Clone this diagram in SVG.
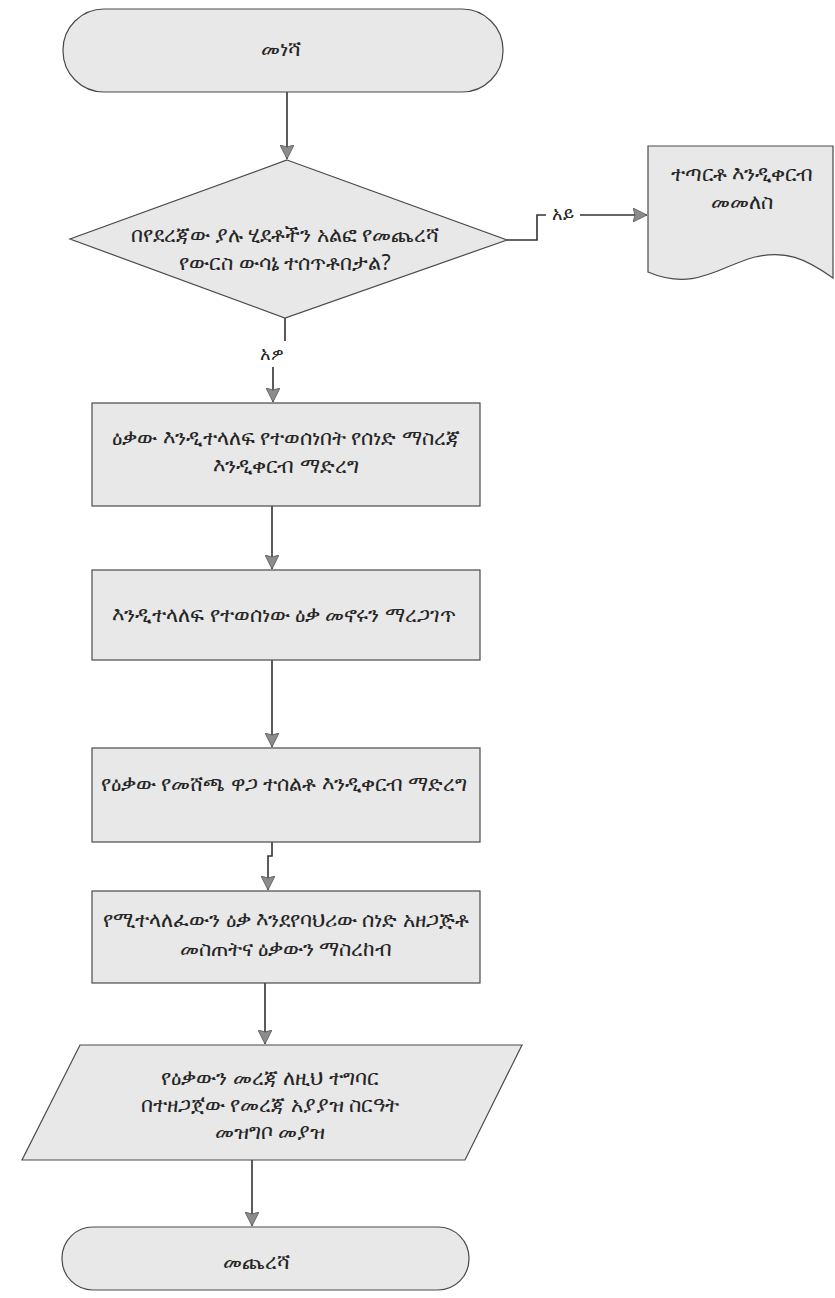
<svg xmlns="http://www.w3.org/2000/svg" width="835" height="1298" viewBox="0 0 835 1298">
  <style>
    .shape { fill: #e8e8e8; stroke: #4a4a4a; stroke-width: 1.2; }
    .lbl { font-family: "Noto Sans", "DejaVu Sans", sans-serif; font-size: 21px; fill: #262626; text-anchor: middle; dominant-baseline: central; }
    .small { font-size: 18px; }
    .wire { fill: none; stroke: #333; stroke-width: 1.6; }
  </style>
  <defs>
    <marker id="arr" viewBox="0 0 14 14" refX="14" refY="7" markerWidth="14" markerHeight="14" orient="auto" markerUnits="userSpaceOnUse">
      <path d="M0,0 L14,7 L0,14 L2,7 Z" fill="#8c8c8c" stroke="#555" stroke-width="0.8"/>
    </marker>
  </defs>
  <rect width="835" height="1298" fill="#ffffff"/>

  <!-- connectors -->
  <g id="connectors">
    <path class="wire" d="M287,92 V159" marker-end="url(#arr)"/>
    <path class="wire" d="M507,240 H537 V215 H546"/>
    <path class="wire" d="M580,215 H647" marker-end="url(#arr)"/>
    <text class="lbl small" x="563" y="213">አይ</text>
    <path class="wire" d="M285,318 V341"/>
    <text class="lbl small" x="272" y="353">አዎ</text>
    <path class="wire" d="M273,367 V402" marker-end="url(#arr)"/>
    <path class="wire" d="M272,506 V569" marker-end="url(#arr)"/>
    <path class="wire" d="M272,660 V747" marker-end="url(#arr)"/>
    <path class="wire" d="M272,842 V856 H268 V890" marker-end="url(#arr)"/>
    <path class="wire" d="M265,983 V1044" marker-end="url(#arr)"/>
    <path class="wire" d="M252,1160 V1226" marker-end="url(#arr)"/>
  </g>

  <!-- start -->
  <g id="start">
    <rect class="shape" x="63" y="9" width="440" height="83" rx="41" ry="41"/>
    <text class="lbl" x="281" y="48">መነሻ</text>
  </g>

  <!-- decision -->
  <g id="decision">
    <polygon class="shape" points="287,160 507,240 285,318 70,239"/>
    <text class="lbl" x="285" y="234">በየደረጃው ያሉ ሂደቶችን አልፎ የመጨረሻ</text>
    <text class="lbl" x="285" y="262">የውርስ ውሳኔ ተሰጥቶበታል?</text>
  </g>

  <!-- returned document -->
  <g id="return-doc">
    <path class="shape" d="M648,146 H833 V278 C805,258 785,250 755,257 C720,266 695,292 648,272 Z"/>
    <text class="lbl" x="742" y="173">ተጣርቶ እንዲቀርብ</text>
    <text class="lbl" x="742" y="201">መመለስ</text>
  </g>

  <!-- step 1 -->
  <g id="step1">
    <rect class="shape" x="92" y="403" width="388" height="103"/>
    <text class="lbl" x="286" y="437">ዕቃው እንዲተላለፍ የተወሰነበት የሰነድ ማስረጃ</text>
    <text class="lbl" x="286" y="465">እንዲቀርብ ማድረግ</text>
  </g>

  <!-- step 2 -->
  <g id="step2">
    <rect class="shape" x="92" y="570" width="388" height="90"/>
    <text class="lbl" x="284" y="614">እንዲተላለፍ የተወሰነው ዕቃ መኖሩን ማረጋገጥ</text>
  </g>

  <!-- step 3 -->
  <g id="step3">
    <rect class="shape" x="92" y="748" width="388" height="94"/>
    <text class="lbl" x="284" y="783">የዕቃው የመሸጫ ዋጋ ተሰልቶ እንዲቀርብ ማድረግ</text>
  </g>

  <!-- step 4 -->
  <g id="step4">
    <rect class="shape" x="92" y="891" width="388" height="92"/>
    <text class="lbl" x="286" y="919">የሚተላለፈውን ዕቃ እንደየባህሪው ሰነድ አዘጋጅቶ</text>
    <text class="lbl" x="286" y="948">መስጠትና ዕቃውን ማስረከብ</text>
  </g>

  <!-- record data -->
  <g id="record">
    <polygon class="shape" points="80,1045 522,1045 465,1160 22,1160"/>
    <text class="lbl" x="270" y="1077">የዕቃውን መረጃ ለዚህ ተግባር</text>
    <text class="lbl" x="270" y="1104">በተዘጋጀው የመረጃ አያያዝ ስርዓት</text>
    <text class="lbl" x="270" y="1131">መዝግቦ መያዝ</text>
  </g>

  <!-- end -->
  <g id="end">
    <rect class="shape" x="62" y="1227" width="407" height="63" rx="31" ry="31"/>
    <text class="lbl" x="256" y="1261">መጨረሻ</text>
  </g>
</svg>
